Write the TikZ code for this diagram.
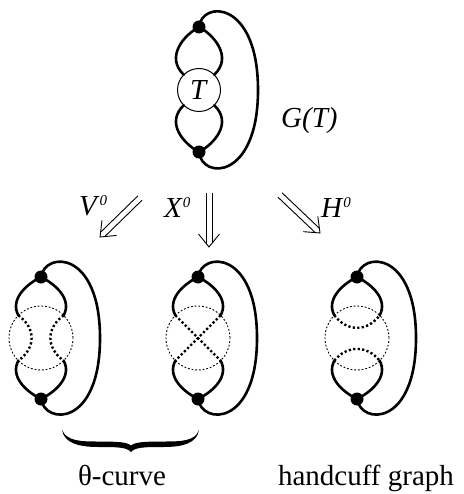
\documentclass[tikz,border=0pt]{standalone}
\usepackage{fontspec}
\setmainfont{Liberation Serif}
\usetikzlibrary{calc}
\newcommand\supz[1]{\raisebox{10pt}{\fontsize{15}{15}\selectfont #1}}
% double arrow from #1 to #2 (named coordinates)
\newcommand\dblarr[2]{%
  \coordinate (#1q) at ($(#2)!3.8pt!(#1)$);
  \coordinate (#1b) at ($(#2)!13pt!(#1)$);
  \draw[thinl] ($(#1)!3pt!90:(#2)$) -- ($(#1q)!3pt!90:(#2)$);
  \draw[thinl] ($(#1)!3pt!-90:(#2)$) -- ($(#1q)!3pt!-90:(#2)$);
  \draw[thinl, line join=miter] ($(#1b)!10.5pt!90:(#2)$) -- (#2) -- ($(#1b)!10.5pt!-90:(#2)$);
}
\tikzset{
  edge/.style={line width=2.6pt, line cap=round},
  vtx/.style={circle, fill=black, inner sep=0pt, minimum size=13pt},
  ring/.style={circle, draw=black, line width=0.9pt, dash pattern=on 1.8pt off 1.9pt, inner sep=0pt, outer sep=0pt, minimum size=64pt},
  tang/.style={line width=2.4pt, dash pattern=on 2.2pt off 2.3pt},
  thinl/.style={line width=0.9pt},
  lbl/.style={font=\fontsize{29}{34}\selectfont, inner sep=0pt},
}
\begin{document}
\begin{tikzpicture}[x=1pt,y=-1pt]
\useasboundingbox (0,0) rectangle (463,494);

% ---------- top graph G(T)
\begin{scope}[shift={(199,90)}]
  \node[draw, circle, minimum size=43pt, inner sep=0pt, outer sep=0pt, line width=1pt, lbl] (T) at (0,0) {\itshape T\/};
  \node[vtx] (ta) at (0,-63) {};
  \node[vtx] (tb) at (0,62) {};
  \draw[edge] (ta.center) .. controls (-15,-55) and (-34,-33) .. (T.135);
  \draw[edge] (ta.center) .. controls (15,-55) and (34,-33) .. (T.45);
  \draw[edge] (tb.center) .. controls (-15,54) and (-34,33) .. (T.225);
  \draw[edge] (tb.center) .. controls (15,54) and (34,33) .. (T.315);
  \draw[edge] (ta.center) .. controls (3,-90) and (59,-90) .. (59,0)
                          .. controls (59,90) and (3,90) .. (tb.center);
\end{scope}
\node[lbl, anchor=base west] (gt) at (281,128) {\itshape G(T)};

% ---------- arrows
\coordinate (v0s) at (140,198); \coordinate (v0e) at (100,237);
\coordinate (x0s) at (209,193); \coordinate (x0e) at (209,247);
\coordinate (h0s) at (280,195); \coordinate (h0e) at (320,233);
\dblarr{v0s}{v0e}
\dblarr{x0s}{x0e}
\dblarr{h0s}{h0e}
\node[lbl, anchor=base west] (lv) at (79,215) {\itshape V\/\supz{0}};
\node[lbl, anchor=base west] (lx) at (164,217) {\itshape X\/\supz{0}};
\node[lbl, anchor=base west] (lh) at (321,217) {\itshape H\/\supz{0}};

% ---------- bottom graphs
\foreach \cx/\nm in {41/1, 198/2, 357/3}{
  \begin{scope}[shift={(\cx,338)}]
    \node[ring] (c\nm) at (0,0) {};
    \node[vtx] (a\nm) at (0,-61) {};
    \node[vtx] (b\nm) at (0,61) {};
    \draw[edge] (a\nm.center) .. controls (-16,-53) and (-31,-38) .. (c\nm.135);
    \draw[edge] (a\nm.center) .. controls (16,-53) and (31,-38) .. (c\nm.45);
    \draw[edge] (b\nm.center) .. controls (-16,53) and (-31,38) .. (c\nm.225);
    \draw[edge] (b\nm.center) .. controls (16,53) and (31,38) .. (c\nm.315);
    \draw[edge] (a\nm.center) .. controls (4,-87) and (59,-88) .. (59,0)
                              .. controls (59,89) and (4,87) .. (b\nm.center);
  \end{scope}
}
% V^0 smoothing
\begin{scope}[shift={(41,338)}]
  \draw[tang] (c1.135) .. controls (-5,-10) and (-5,10) .. (c1.225);
  \draw[tang] (c1.45) .. controls (5,-10) and (5,10) .. (c1.315);
\end{scope}
% X^0 crossing
\draw[tang] (c2.135) -- (c2.315);
\draw[tang] (c2.45) -- (c2.225);
% H^0 smoothing
\begin{scope}[shift={(357,338)}]
  \draw[tang] (c3.135) .. controls (-10,-6) and (10,-6) .. (c3.45);
  \draw[tang] (c3.225) .. controls (-10,7) and (10,7) .. (c3.315);
\end{scope}

% ---------- brace
\fill (62,430) .. controls (67,441) and (80,441.5) .. (98,441.5)
      .. controls (117,441.5) and (127,442) .. (131,445.5)
      .. controls (135,442) and (145,441.5) .. (164,441.5)
      .. controls (182,441.5) and (195,441) .. (199,430)
      .. controls (197,443) and (183,447) .. (164,447)
      .. controls (146,447) and (135,447) .. (131,452)
      .. controls (127,447) and (116,447) .. (98,447)
      .. controls (79,447) and (64,443) .. cycle;

% ---------- captions
\node[lbl, anchor=base] (th) at (122,485) {θ-curve};
\node[lbl, anchor=base] (hc) at (366,485) {handcuff graph};
\end{tikzpicture}
\end{document}
